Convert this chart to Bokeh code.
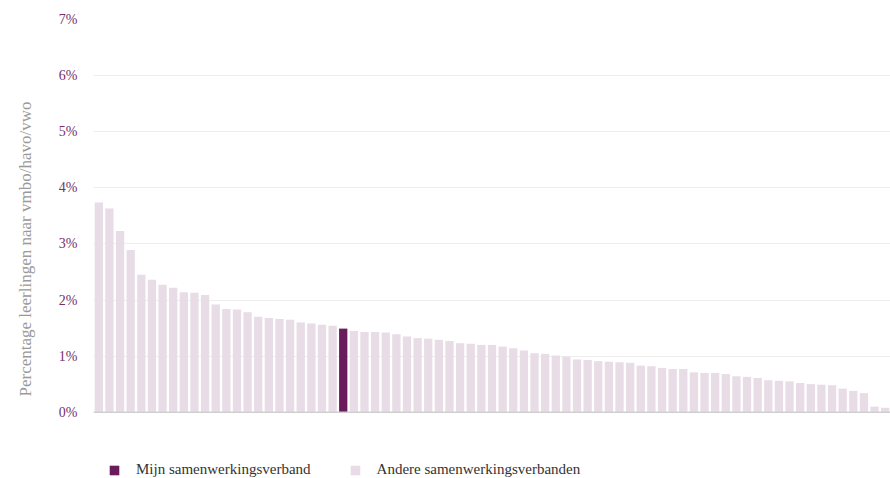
from bokeh.plotting import figure
from bokeh.models import (FixedTicker, PrintfTickFormatter, Legend, LegendItem, Span,
                          Range1d, ColumnDataSource)
from bokeh.embed import file_html
from bokeh.resources import INLINE

# Percentage leerlingen naar vmbo/havo/vwo per samenwerkingsverband (sorted)
values = [3.74, 3.63, 3.23, 2.89, 2.45, 2.36, 2.27, 2.22, 2.14, 2.13,
          2.09, 1.92, 1.84, 1.83, 1.78, 1.70, 1.68, 1.66, 1.65, 1.60,
          1.58, 1.56, 1.54, 1.49, 1.45, 1.43, 1.43, 1.42, 1.39, 1.35,
          1.32, 1.31, 1.29, 1.27, 1.23, 1.22, 1.20, 1.20, 1.17, 1.14,
          1.10, 1.05, 1.04, 1.01, 0.99, 0.94, 0.93, 0.91, 0.90, 0.89,
          0.88, 0.83, 0.82, 0.79, 0.77, 0.77, 0.71, 0.70, 0.70, 0.68,
          0.64, 0.63, 0.61, 0.57, 0.56, 0.55, 0.52, 0.50, 0.49, 0.48,
          0.42, 0.38, 0.34, 0.10, 0.08]
mine_index = 23
y_ticks = [0, 1, 2, 3, 4, 5, 6, 7]
legend_labels = ["Mijn samenwerkingsverband", "Andere samenwerkingsverbanden"]
y_label = "Percentage leerlingen naar vmbo/havo/vwo"

FONT = "'Liberation Serif'"
C_MINE = "#6a1b5b"
C_OTHER = "#e8dce6"

W, H = 890, 478
TOP, LEFT = 19, 93
PX_PER_UNIT = 56.1
frame_h = H - TOP
y_start = 7 - frame_h / PX_PER_UNIT  # room below zero for the legend

idx = list(range(len(values)))
other_src = ColumnDataSource(dict(x=[i for i in idx if i != mine_index],
                                  top=[v for i, v in enumerate(values) if i != mine_index]))
mine_src = ColumnDataSource(dict(x=[mine_index], top=[values[mine_index]]))

p = figure(width=W, height=H, output_backend="svg", toolbar_location=None,
           x_range=Range1d(-0.5, len(values) - 0.5), y_range=Range1d(y_start, 7),
           x_axis_location=None, min_border_left=LEFT, min_border_right=0,
           min_border_top=TOP, min_border_bottom=0)
p.outline_line_color = None
p.background_fill_color = "white"
p.border_fill_color = "white"

r_other = p.vbar(x="x", top="top", bottom=0, width=0.78, source=other_src,
                 fill_color=C_OTHER, line_color=None)
r_mine = p.vbar(x="x", top="top", bottom=0, width=0.78, source=mine_src,
                fill_color=C_MINE, line_color=None)

p.yaxis.ticker = FixedTicker(ticks=y_ticks)
p.yaxis.formatter = PrintfTickFormatter(format="%d%%")
p.yaxis.axis_line_color = None
p.yaxis.major_tick_line_color = None
p.yaxis.minor_tick_line_color = None
p.yaxis.major_label_text_color = "#74306a"
p.yaxis.major_label_text_font = FONT
p.yaxis.major_label_text_font_size = "14px"
p.yaxis.major_label_standoff = 10
p.yaxis.axis_label = y_label
p.yaxis.axis_label_text_font = FONT
p.yaxis.axis_label_text_font_size = "17px"
p.yaxis.axis_label_text_font_style = "normal"
p.yaxis.axis_label_text_color = "#9a9a9a"
p.yaxis.axis_label_standoff = 21

p.xgrid.grid_line_color = None
p.ygrid.ticker = FixedTicker(ticks=y_ticks[1:-1])
p.ygrid.grid_line_color = "#eeeeee"
p.ygrid.grid_line_width = 1

p.add_layout(Span(location=0, dimension="width", line_color="#cfcfcf", line_width=1.5))

legend = Legend(items=[LegendItem(label=legend_labels[0], renderers=[r_mine]),
                       LegendItem(label=legend_labels[1], renderers=[r_other])],
                location=(15, 0), orientation="horizontal")
legend.glyph_width = 12
legend.glyph_height = 12
legend.label_height = 12
legend.padding = 0
legend.margin = 0
legend.spacing = 38
legend.label_standoff = 16
legend.label_text_font = FONT
legend.label_text_font_size = "15px"
legend.label_text_color = "#333333"
legend.border_line_color = None
legend.background_fill_alpha = 0
p.add_layout(legend, "center")

open("out.html", "w").write(file_html(p, INLINE))
